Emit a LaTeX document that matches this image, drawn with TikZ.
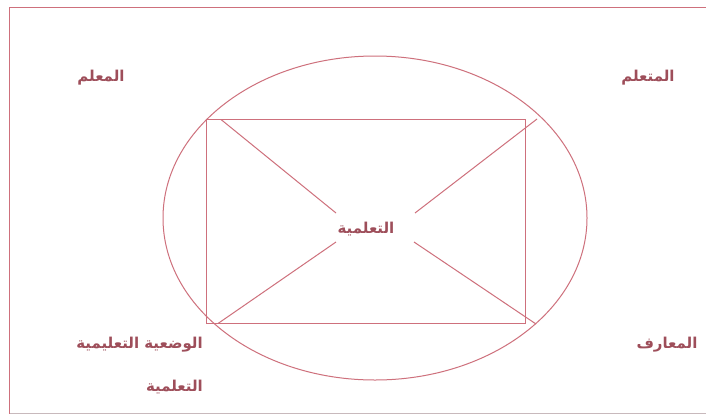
\documentclass[tikz,border=0pt]{standalone}
\usepackage{fontspec}
\TeXXeTstate=1
\newfontfamily\arabicfont[Script=Arabic]{DejaVu Sans Bold}
\definecolor{linepink}{RGB}{206,112,124}
\definecolor{textred}{RGB}{158,78,90}
\definecolor{framegray}{RGB}{200,185,188}
\begin{document}
\begin{tikzpicture}[x=1pt,y=-1pt,
  lbl/.style={text=textred,font=\arabicfont\fontsize{15}{18}\selectfont,inner sep=0pt},
  ln/.style={draw=linepink,line width=1pt}]
\useasboundingbox (0,0) rectangle (706,416);
\fill[white] (0,0) rectangle (706,416);
% outer frame
\draw[draw=linepink,line width=1pt] (9.5,413.5) -- (9.5,7.5) -- (706,7.5);
\draw[draw=framegray,line width=1pt] (9.5,413.5) -- (706,413.5);
% ellipse and rectangle
\draw[ln] (375,218) ellipse [x radius=212,y radius=162];
\draw[ln] (206.5,119.5) rectangle (525.5,323.5);
% labels
\node[lbl] (teacher) at (101,78) {\beginR المعلم\endR};
\node[lbl] (learner) at (648,78) {\beginR المتعلم\endR};
\node[lbl,anchor=east] (situation) at (203,345) {\beginR الوضعية التعليمية\endR};
\node[lbl,anchor=east] (situation2) at (203,387) {\beginR التعلمية\endR};
\node[lbl] (knowledge) at (667,345) {\beginR المعارف\endR};
\node[lbl] (center) at (366,229) {\beginR التعلمية\endR};
% diagonal segments
\coordinate (a1) at (221,119.5); \coordinate (a2) at (336,213);
\coordinate (b1) at (414,242); \coordinate (b2) at (536,324);
\coordinate (c1) at (537,119); \coordinate (c2) at (415,213);
\coordinate (d1) at (336,242); \coordinate (d2) at (218,323.5);
\draw[ln] (a1) -- (a2);
\draw[ln] (b1) -- (b2);
\draw[ln] (c1) -- (c2);
\draw[ln] (d1) -- (d2);
\end{tikzpicture}
\end{document}
